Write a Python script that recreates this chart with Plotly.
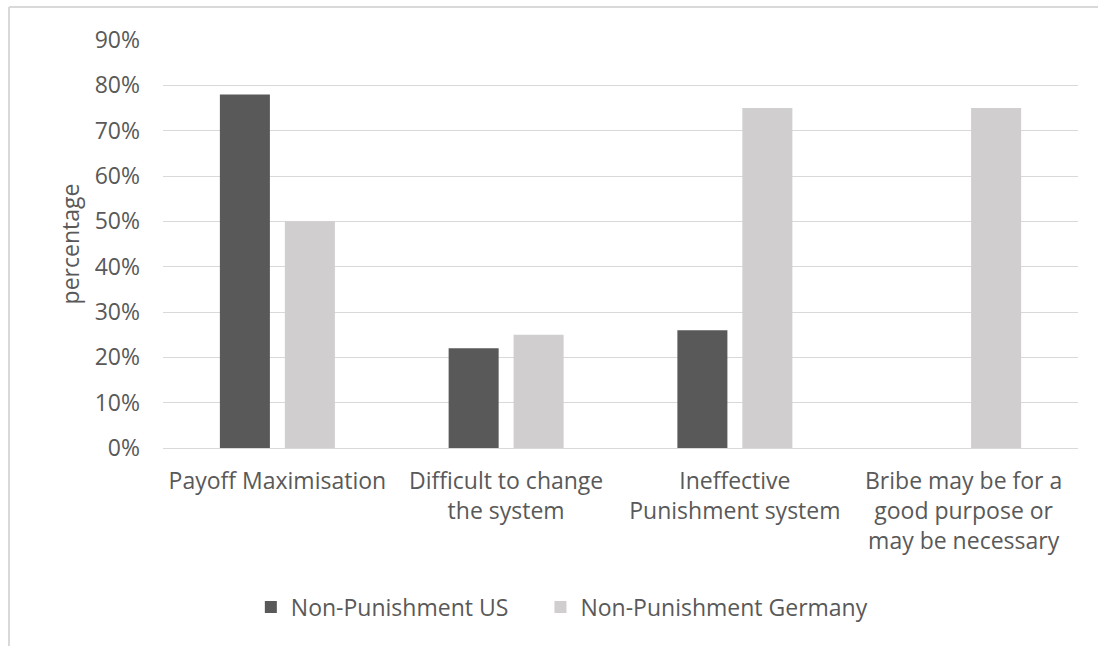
import plotly.graph_objects as go

categories = [
    "Payoff Maximisation",
    "Difficult to change<br>the system",
    "Ineffective<br>Punishment system",
    "Bribe may be for a<br>good purpose or<br>may be necessary",
]
us_values = [0.78, 0.22, 0.26, 0.0]
germany_values = [0.50, 0.25, 0.75, 0.75]
series_names = ["Non-Punishment US", "Non-Punishment Germany"]
y_ticks = [0, 0.1, 0.2, 0.3, 0.4, 0.5, 0.6, 0.7, 0.8, 0.9]

FONT = "Open Sans"
TXT = "#595959"
BORDER = "#d9d9d9"

fig = go.Figure()
fig.add_trace(go.Bar(x=categories, y=us_values, name=series_names[0],
                     legend="legend",
                     marker=dict(color="#595959", line=dict(width=0))))
fig.add_trace(go.Bar(x=categories, y=germany_values, name=series_names[1],
                     legend="legend2",
                     marker=dict(color="#d0cece", line=dict(width=0))))

legend_common = dict(orientation="h", xanchor="left", y=-0.39, yanchor="middle",
                     bgcolor="rgba(0,0,0,0)",
                     font=dict(family=FONT, size=23, color=TXT))

fig.update_layout(
    width=1098, height=646,
    margin=dict(l=163, r=20, t=40, b=198, autoexpand=False),
    paper_bgcolor="white", plot_bgcolor="white",
    barmode="group", bargap=0.432, bargroupgap=0.23,
    font=dict(family=FONT, size=23, color=TXT),
    showlegend=True,
    legend=dict(x=0.096, **legend_common),
    legend2=dict(x=0.4125, **legend_common),
    shapes=[
        dict(type="line", xref="paper", yref="paper",
             x0=-0.1683, x1=-0.1683, y0=-0.6, y1=1.0809,
             line=dict(color=BORDER, width=2), layer="below"),
        dict(type="line", xref="paper", yref="paper",
             x0=-0.1683, x1=1.1, y0=1.0809, y1=1.0809,
             line=dict(color=BORDER, width=2), layer="below"),
    ],
)
fig.update_xaxes(showgrid=False, showline=False, ticks="", automargin=False,
                 ticklabelstandoff=17,
                 tickfont=dict(family=FONT, size=23, color=TXT))
fig.update_yaxes(range=[0, 0.9], tickvals=y_ticks, tickformat=".0%",
                 showgrid=True, gridcolor=BORDER, gridwidth=1,
                 zeroline=True, zerolinecolor=BORDER, zerolinewidth=1,
                 showline=False, ticks="", automargin=False,
                 ticklabelstandoff=22,
                 title=dict(text="percentage", standoff=8,
                            font=dict(family=FONT, size=23, color=TXT)),
                 tickfont=dict(family=FONT, size=23, color=TXT))

fig.write_html("out.html")
